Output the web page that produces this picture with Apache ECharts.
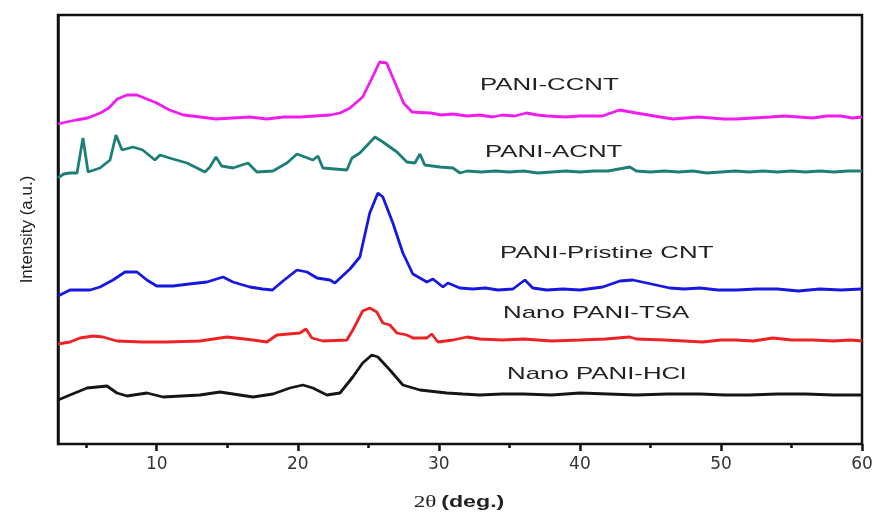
<!DOCTYPE html>
<html>
<head>
    <meta charset="UTF-8" />
    <title>XRD patterns</title>
    <script src="https://cdn.jsdelivr.net/npm/echarts@6/dist/echarts.min.js"></script>
    <style>
        html, body { margin: 0; padding: 0; background: #fff; }
        #chart { width: 877px; height: 513px; }
    </style>
</head>
<body>
<div id="chart"></div>
<script type="text/javascript">
    // 2theta range and tick positions
    var thetaMin = 3;
    var thetaMax = 60;
    var xMajorTicks = [10, 20, 30, 40, 50, 60];
    var xMinorTicks = [5, 15, 25, 35, 45, 55];

    // sample names (top to bottom)
    var sampleNames = ['PANI-CCNT', 'PANI-ACNT', 'PANI-Pristine CNT', 'Nano PANI-TSA', 'Nano PANI-HCl'];

    // [2theta, intensity (a.u., stacked offset included)]
    var ccntData = [
        [3.0, 320], [3.6, 322], [4.3, 324], [5.1, 326], [6.0, 331], [6.6, 336], [7.2, 345], [7.9, 349],
        [8.6, 349], [9.3, 345], [10.0, 341], [10.9, 334], [11.9, 329], [13.1, 327], [14.2, 325], [15.4, 326],
        [16.6, 327], [17.8, 325], [19.0, 327], [20.2, 327], [21.2, 328], [22.3, 329], [23.0, 331], [23.7, 336],
        [24.6, 347], [25.3, 367], [25.8, 382], [26.3, 381], [26.9, 361], [27.5, 341], [28.1, 332], [29.4, 331],
        [30.2, 329], [31.0, 330], [32.0, 328], [32.9, 329], [33.8, 327], [34.5, 329], [35.4, 328], [36.2, 331],
        [37.0, 329], [37.7, 328], [39.0, 327], [40.0, 328], [41.6, 328], [42.8, 334], [44.0, 331], [45.7, 327],
        [46.6, 325], [47.5, 326], [48.4, 327], [49.3, 326], [50.2, 325], [51.1, 325], [52.3, 326], [53.5, 327],
        [54.5, 328], [55.5, 327], [56.5, 326], [57.5, 328], [58.5, 328], [59.3, 326], [60.0, 327]
    ];
    var acntData = [
        [3.0, 266], [3.4, 270], [3.85, 271], [4.35, 271], [4.77, 306], [5.13, 272], [5.98, 276], [6.69, 284],
        [7.11, 309], [7.54, 294], [8.32, 297], [9.0, 294], [9.87, 284], [10.23, 289], [11.15, 285], [12.14, 281],
        [13.42, 272], [13.77, 277], [14.2, 287], [14.6, 278], [15.4, 276], [16.47, 281], [17.1, 272], [18.24, 273],
        [19.23, 281], [19.94, 290], [20.5, 287], [21.07, 284], [21.43, 288], [21.78, 276], [23.48, 274], [23.84, 286],
        [24.4, 291], [25.47, 307], [26.03, 302], [27.03, 292], [27.73, 282], [28.3, 281], [28.66, 290], [29.0, 279],
        [30.07, 277], [31.0, 276], [31.5, 271], [32.0, 273], [33.0, 272], [34.0, 273], [35.0, 272], [36.0, 273],
        [37.0, 271], [38.0, 272], [39.0, 273], [40.0, 272], [41.0, 273], [42.0, 273], [43.54, 277], [44.0, 273],
        [45.0, 272], [46.0, 273], [47.0, 272], [48.0, 273], [49.0, 271], [50.0, 272], [51.0, 273], [52.0, 272],
        [53.0, 273], [54.0, 272], [55.0, 273], [56.0, 272], [57.0, 273], [58.0, 272], [59.0, 273], [60.0, 273]
    ];
    var pristineData = [
        [3.0, 148], [3.85, 154], [5.27, 154], [5.98, 157], [6.9, 164], [7.75, 172], [8.6, 172], [9.3, 164],
        [10.0, 158], [11.15, 158], [12.3, 160], [13.56, 162], [14.7, 167], [15.4, 162], [16.6, 157], [17.5, 155],
        [18.2, 154], [18.95, 163], [19.94, 174], [20.65, 172], [21.36, 166], [22.28, 164], [22.63, 161], [23.7, 175],
        [24.4, 187], [25.1, 231], [25.68, 251], [26.03, 247], [26.74, 221], [27.45, 191], [28.16, 170], [29.15, 162],
        [29.58, 165], [30.29, 157], [30.64, 161], [31.49, 156], [32.4, 155], [33.3, 156], [34.2, 154], [35.25, 155],
        [36.1, 164], [36.66, 156], [37.66, 154], [38.8, 155], [40.0, 154], [41.62, 157], [42.83, 163], [43.75, 164],
        [44.74, 161], [46.37, 156], [47.4, 155], [48.5, 156], [49.8, 154], [51.12, 154], [52.5, 155], [54.0, 155],
        [55.5, 153], [57.0, 155], [58.5, 154], [60.0, 155]
    ];
    var tsaData = [
        [3.0, 100], [3.85, 102], [4.56, 106], [5.48, 108], [6.19, 107], [7.18, 103], [9.0, 102], [10.72, 102],
        [13.06, 103], [14.98, 107], [16.82, 104], [17.81, 102], [18.52, 109], [20.15, 111], [20.58, 115], [21.0, 106],
        [21.78, 103], [23.48, 104], [23.9, 114], [24.6, 133], [25.1, 136], [25.6, 132], [26.03, 121], [26.53, 119],
        [27.03, 111], [27.73, 109], [28.16, 106], [29.15, 106], [29.5, 110], [29.93, 102], [31.0, 104], [31.99, 107],
        [32.9, 105], [34.5, 104], [36.0, 105], [38.0, 103], [40.0, 104], [41.8, 105], [43.54, 107], [44.0, 105],
        [46.0, 104], [47.4, 103], [48.7, 102], [50.0, 104], [51.0, 104], [52.3, 103], [53.67, 106], [55.0, 104],
        [56.5, 104], [58.0, 103], [59.2, 104], [60.0, 103]
    ];
    var hclData = [
        [3.0, 44], [3.85, 49], [5.06, 56], [6.47, 58], [7.18, 51], [7.89, 48], [9.31, 51], [10.44, 47],
        [13.06, 49], [14.48, 52], [16.82, 47], [18.24, 50], [19.44, 56], [20.36, 59], [21.07, 56], [22.06, 49],
        [22.99, 51], [23.9, 67], [24.6, 81], [25.25, 89], [25.68, 87], [26.53, 74], [27.45, 59], [28.66, 54],
        [30.57, 51], [31.7, 50], [32.9, 49], [34.5, 50], [36.0, 50], [38.0, 49], [40.0, 51], [42.0, 50],
        [44.0, 49], [46.2, 50], [48.5, 50], [50.3, 49], [52.0, 49], [54.0, 50], [56.0, 50], [58.0, 49], [60.0, 49]
    ];

    var seriesData = [ccntData, acntData, pristineData, tsaData, hclData];
    var seriesColors = ['#f01cf0', '#1b7f78', '#1717e0', '#ee2222', '#151515'];
    // label anchor (left edge, vertical middle) for each curve
    var labelPos = [[480, 85], [485, 152], [500, 253], [503, 313], [507, 374]];

    var chart = echarts.init(document.getElementById('chart'));

    var series = [];
    var labels = [];
    for (var i = 0; i < seriesData.length; i++) {
        series.push({
            name: sampleNames[i],
            type: 'line',
            data: seriesData[i],
            showSymbol: false,
            symbol: 'none',
            lineStyle: { color: seriesColors[i], width: 2.8 },
            itemStyle: { color: seriesColors[i] }
        });
        labels.push({
            type: 'text',
            x: labelPos[i][0],
            y: labelPos[i][1],
            scaleX: 1.52,
            style: {
                text: sampleNames[i],
                fontSize: 17,
                fontFamily: 'Liberation Sans',
                fill: '#222',
                textAlign: 'left',
                textVerticalAlign: 'middle'
            }
        });
    }

    // x axis title, stretched like the original
    labels.push({
        type: 'text',
        x: 459,
        y: 503,
        scaleX: 1.45,
        style: {
            text: '{a|2θ} {b|(deg.)}',
            fill: '#222',
            textAlign: 'center',
            textVerticalAlign: 'middle',
            rich: {
                a: { fontFamily: 'Liberation Serif', fontSize: 16, fill: '#222' },
                b: { fontFamily: 'Liberation Sans', fontWeight: 'bold', fontSize: 16, fill: '#222' }
            }
        }
    });

    var option = {
        backgroundColor: '#fff',
        animation: false,
        grid: {
            left: 58, right: 15, top: 15, bottom: 69,
            show: true,
            borderColor: '#111',
            borderWidth: 2.5
        },
        xAxis: [
            {
                type: 'value',
                min: thetaMin,
                max: thetaMax,
                axisLine: { show: true, lineStyle: { color: '#111', width: 2 } },
                axisTick: { show: true, customValues: xMajorTicks, length: 7, lineStyle: { color: '#111', width: 2.5 } },
                axisLabel: {
                    customValues: xMajorTicks,
                    margin: 12,
                    fontSize: 17,
                    fontFamily: 'DejaVu Sans',
                    color: '#333'
                },
                splitLine: { show: false }
            },
            {
                // minor ticks only
                type: 'value',
                position: 'bottom',
                min: thetaMin,
                max: thetaMax,
                axisLine: { show: false },
                axisTick: { show: true, customValues: xMinorTicks, length: 4, lineStyle: { color: '#111', width: 2.5 } },
                axisLabel: { show: false },
                splitLine: { show: false }
            }
        ],
        yAxis: {
            type: 'value',
            min: 0,
            max: 429,
            name: 'Intensity (a.u.)',
            nameLocation: 'middle',
            nameRotate: 90,
            nameGap: 22,
            nameTextStyle: { fontFamily: 'Liberation Sans', fontSize: 17, color: '#222' },
            axisLine: { show: true, lineStyle: { color: '#111', width: 2.5 } },
            axisTick: { show: false },
            axisLabel: { show: false },
            splitLine: { show: false }
        },
        graphic: labels,
        series: series
    };
    chart.setOption(option);
</script>
</body>
</html>
